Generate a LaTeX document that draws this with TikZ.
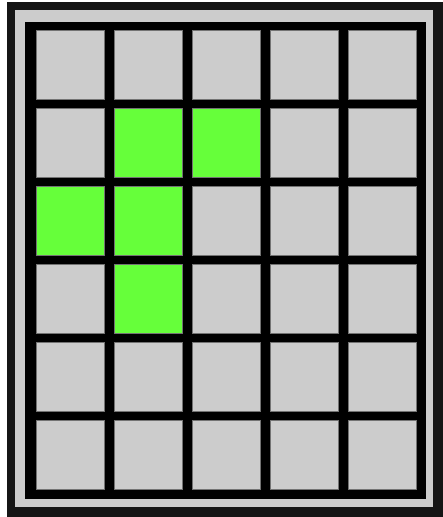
\documentclass[tikz,border=0pt]{standalone}
\definecolor{cellgray}{HTML}{CCCCCC}
\definecolor{cellgreen}{HTML}{66FF3A}
\definecolor{rimdark}{HTML}{151515}
\tikzset{
  cellbox/.style={fill=cellgray, draw=black!55, line width=0.4pt},
  greenbox/.style={fill=cellgreen, draw=black!55, line width=0.4pt}
}
\begin{document}
\begin{tikzpicture}[x=1pt,y=-1pt]
\useasboundingbox (0,0) rectangle (443,517);
\fill[white] (0,0) rectangle (443,517);
\fill[rimdark] (7,2) rectangle (443,517);
\fill[cellgray] (15,10) rectangle (433,507);
\fill[black] (25,21.5) rectangle (426,499);
\foreach \r in {0,...,5}{
  \foreach \c in {0,...,4}{
    \path[cellbox] ({36+78*\c},{30.5+78*\r}) rectangle ++(68.5,68.5);
  }
}
\foreach \c/\r in {1/1,2/1,0/2,1/2,1/3}{
  \path[greenbox] ({36+78*\c},{30.5+78*\r}) rectangle ++(68.5,68.5);
}
\end{tikzpicture}
\end{document}
